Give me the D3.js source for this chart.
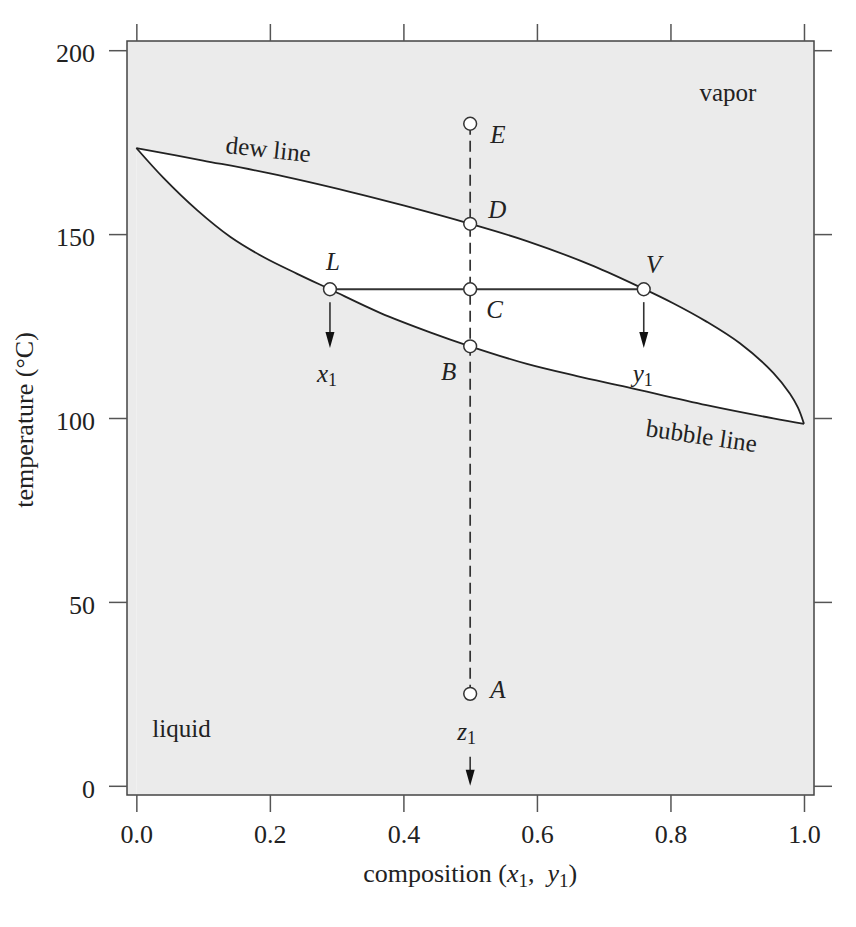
<!DOCTYPE html>
<html><head><meta charset="utf-8">
<script src="https://cdn.jsdelivr.net/npm/d3@7"></script>
<style>
body{margin:0;background:#fff}
svg{display:block}
text{font-family:"Liberation Serif","Times New Roman",serif;fill:#222}
</style>
</head><body><svg id="c" width="856" height="927"></svg>
<script>
// ---- data ----
const xTickValues = [0, 0.2, 0.4, 0.6, 0.8, 1.0];
const yTickValues = [0, 50, 100, 150, 200];
const dewX = [0, 0.1, 0.2, 0.32, 0.4, 0.5, 0.585, 0.685, 0.76, 0.804, 0.854, 0.904, 0.954, 0.979, 0.991, 1.0];
const dewT = [173.4, 170.0, 166.5, 161.5, 157.8, 152.8, 148.1, 141.3, 135.1, 131.2, 126.2, 120.3, 112.3, 106.6, 102.8, 98.4];
const bubbleX = [0, 0.041, 0.091, 0.141, 0.191, 0.241, 0.29, 0.365, 0.44, 0.5, 0.585, 0.66, 0.735, 0.854, 0.954, 1.0];
const bubbleT = [173.4, 165.2, 156.5, 149.2, 143.7, 139.2, 135.0, 128.6, 123.3, 119.5, 114.7, 111.4, 108.4, 103.5, 99.9, 98.4];
const pointNames = ["E", "D", "C", "B", "A", "L", "V"];
const pointX = [0.5, 0.5, 0.5, 0.5, 0.5, 0.29, 0.76];
const pointT = [180, 152.8, 135, 119.5, 25, 135, 135];
const arrowLetters = ["x", "y", "z"];
const arrowX = [0.29, 0.76, 0.5];
const arrowFromT = [131.5, 131.5, 7.9];
const arrowToT = [119, 119, 0];
const regionNames = ["vapor", "liquid"];
const regionX = [0.886, 0.024];
const regionT = [186.1, 13.4];

// ---- layout ----
const svg = d3.select("#c");
const x = d3.scaleLinear().domain([-0.014, 1.015]).range([127, 814]);
const y = d3.scaleLinear().domain([-2.5, 202.5]).range([795, 41]);
const [L, R] = x.range(), [B, T] = y.range();
const FONT = 26, AFONT = 25;

svg.append("rect").attr("x", L).attr("y", T).attr("width", R - L).attr("height", B - T)
  .attr("fill", "#ebebeb");

const dew = dewX.map((v, i) => ({x: v, t: dewT[i]}));
const bub = bubbleX.map((v, i) => ({x: v, t: bubbleT[i]}));
const curve = d3.curveCatmullRom.alpha(0.5);
const yBase = y(y.domain()[0]);
const area = d3.area().curve(curve).x(d => x(d.x)).y0(yBase).y1(d => y(d.t));
svg.append("path").attr("d", area(dew)).attr("fill", "#fff");
svg.append("path").attr("d", area(bub)).attr("fill", "#ebebeb");

const line = d3.line().curve(curve).x(d => x(d.x)).y(d => y(d.t));
svg.append("path").attr("d", line(dew)).attr("fill", "none").attr("stroke", "#222").attr("stroke-width", 1.8);
svg.append("path").attr("d", line(bub)).attr("fill", "none").attr("stroke", "#222").attr("stroke-width", 1.8);

// dashed vertical line E..A
const iE = pointNames.indexOf("E"), iA = pointNames.indexOf("A");
svg.append("line").attr("x1", x(pointX[iE])).attr("x2", x(pointX[iA]))
  .attr("y1", y(pointT[iE])).attr("y2", y(pointT[iA]))
  .attr("stroke", "#333").attr("stroke-width", 1.7).attr("stroke-dasharray", "11,6");

// tie line L..V
const iL = pointNames.indexOf("L"), iV = pointNames.indexOf("V");
svg.append("line").attr("x1", x(pointX[iL])).attr("x2", x(pointX[iV]))
  .attr("y1", y(pointT[iL])).attr("y2", y(pointT[iV]))
  .attr("stroke", "#333").attr("stroke-width", 1.8);

// arrows
arrowX.forEach((ax, i) => {
  const px = x(ax), y0 = y(arrowFromT[i]), y1 = y(arrowToT[i]);
  svg.append("line").attr("x1", px).attr("x2", px).attr("y1", y0).attr("y2", y1 - 12)
    .attr("stroke", "#333").attr("stroke-width", 1.6);
  svg.append("path").attr("d", `M${px},${y1}L${px - 4.5},${y1 - 16}L${px + 4.5},${y1 - 16}Z`).attr("fill", "#111");
});

// circles
pointNames.forEach((n, i) => {
  svg.append("circle").attr("cx", x(pointX[i])).attr("cy", y(pointT[i])).attr("r", 6.4)
    .attr("fill", "#fff").attr("stroke", "#333").attr("stroke-width", 1.5);
});

// point labels (pixel offsets from point)
const pointLabelOffset = {E: [20, 19, "start"], D: [18, -6, "start"], C: [16, 29, "start"], B: [-14, 34, "end"],
  A: [20, 4, "start"], L: [3, -19, "middle"], V: [10, -16, "middle"]};
pointNames.forEach((n, i) => {
  const o = pointLabelOffset[n];
  svg.append("text").attr("x", x(pointX[i]) + o[0]).attr("y", y(pointT[i]) + o[1])
    .attr("text-anchor", o[2]).attr("font-style", "italic").attr("font-size", AFONT).text(n);
});

// arrow labels x1, y1, z1
const arrowLabelOffset = [[-13, 381.5], [-11, 381.5], [-13, 740]];
arrowLetters.forEach((l, i) => {
  const t = svg.append("text").attr("x", x(arrowX[i]) + arrowLabelOffset[i][0]).attr("y", arrowLabelOffset[i][1])
    .attr("font-size", AFONT);
  t.append("tspan").attr("font-style", "italic").text(l);
  t.append("tspan").attr("font-size", 18).attr("dy", 4).text("1");
});

// region labels
svg.append("text").attr("x", x(regionX[0])).attr("y", y(regionT[0])).attr("text-anchor", "middle").attr("font-size", AFONT).text(regionNames[0]);
svg.append("text").attr("x", x(regionX[1])).attr("y", y(regionT[1])).attr("text-anchor", "start").attr("font-size", AFONT).text(regionNames[1]);

// curve labels
svg.append("text").attr("transform", "translate(225,153) rotate(6.2)").attr("font-size", AFONT).text("dew line");
svg.append("text").attr("transform", "translate(645,436) rotate(8.3)").attr("font-size", AFONT).text("bubble line");

// frame
svg.append("rect").attr("x", L).attr("y", T).attr("width", R - L).attr("height", B - T)
  .attr("fill", "none").attr("stroke", "#444").attr("stroke-width", 1.5);

// axes
function styleAxis(g) {
  g.select(".domain").remove();
  g.selectAll(".tick line").attr("stroke", "#555").attr("stroke-width", 1.5);
  g.selectAll(".tick text").attr("font-size", FONT).attr("fill", "#222")
    .attr("font-family", "'Liberation Serif','Times New Roman',serif");
}
svg.append("g").attr("transform", `translate(0,${B})`)
  .call(d3.axisBottom(x).tickValues(xTickValues).tickSize(17).tickPadding(13).tickFormat(d3.format(".1f"))).call(styleAxis);
svg.append("g").attr("transform", `translate(0,${T})`)
  .call(d3.axisTop(x).tickValues(xTickValues).tickSize(17).tickFormat("")).call(styleAxis);
const ga = svg.append("g").attr("transform", `translate(${L},0)`)
  .call(d3.axisLeft(y).tickValues(yTickValues).tickSize(18).tickPadding(14).tickFormat(d3.format("d"))).call(styleAxis);
ga.selectAll(".tick text").attr("dy", "0.45em");
svg.append("g").attr("transform", `translate(${R},0)`)
  .call(d3.axisRight(y).tickValues(yTickValues).tickSize(18).tickFormat("")).call(styleAxis);

// axis titles
const xt = svg.append("text").attr("x", x(0.5)).attr("y", 882).attr("text-anchor", "middle").attr("font-size", FONT);
xt.append("tspan").text("composition (");
xt.append("tspan").attr("font-style", "italic").text("x");
xt.append("tspan").attr("font-size", 19).attr("dy", 5).text("1");
xt.append("tspan").attr("dy", -5).text(",\u00a0\u00a0");
xt.append("tspan").attr("font-style", "italic").text("y");
xt.append("tspan").attr("font-size", 19).attr("dy", 5).text("1");
xt.append("tspan").attr("dy", -5).text(")");

svg.append("text").attr("transform", `translate(33,${(T + B) / 2 + 2}) rotate(-90)`).attr("text-anchor", "middle")
  .attr("font-size", FONT).text("temperature (°C)");
</script>
</body></html>
